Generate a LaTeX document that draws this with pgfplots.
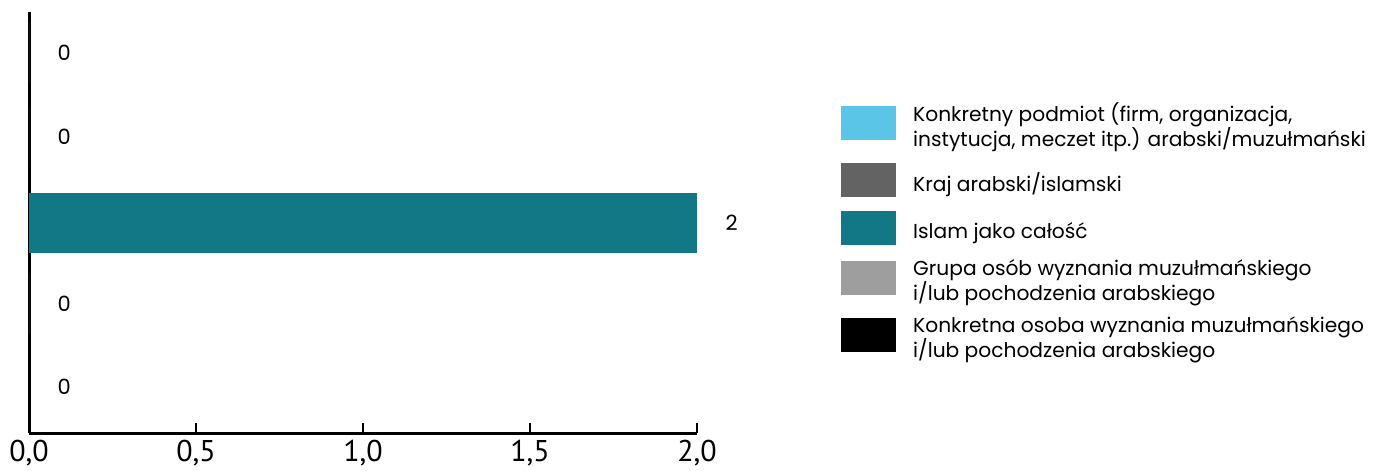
\documentclass[border=0pt]{standalone}
\usepackage{fontspec}
\setmainfont{Poppins}
\newfontfamily\ptsans{PT Sans}
\usepackage{pgfplots}
\pgfplotsset{compat=1.18}
\definecolor{cA}{HTML}{5BC5E8}
\definecolor{cB}{HTML}{636363}
\definecolor{cC}{HTML}{137885}
\definecolor{cD}{HTML}{9E9E9E}
\definecolor{cE}{HTML}{000000}
\begin{document}
\begin{tikzpicture}[x=1pt,y=1pt]
\path[use as bounding box] (0,0) rectangle (1392,471);
\begin{axis}[
  at={(29pt,38pt)}, anchor=south west,
  scale only axis, width=668pt, height=421pt,
  xmin=0, xmax=2, ymin=-0.55, ymax=4.49,
  xbar, bar width=0.72, bar shift=0pt,
  axis x line=bottom, axis y line=left,
  axis line style={line width=3pt, -},
  ytick=\empty,
  xtick={0,0.5,1,1.5,2},
  xtick pos=bottom, tick align=inside,
  major tick length=10pt,
  tick style={line width=2pt, black},
  /pgf/number format/assume math mode=true,
  xticklabel style={font=\ptsans\fontsize{30}{32}\selectfont, yshift=-4pt,
    /pgf/number format/.cd, use comma, fixed, fixed zerofill, precision=1},
  nodes near coords, point meta=x,
  nodes near coords style={anchor=west, xshift=25pt, text=black,
    font=\fontsize{21}{24}\selectfont},
  every axis plot/.append style={draw=none},
  legend cell align=left,
  legend image code/.code={
    \fill[#1,draw=none] (0pt,-17pt) rectangle (55pt,17pt);
  },
  legend style={draw=none, fill=none, inner sep=0pt,
    at={(axis description cs:1.2156,0.784)}, anchor=north west,
    row sep=14.5pt,
    /tikz/every odd column/.append style={column sep=17pt},
    font=\fontsize{20.2}{25}\selectfont,
    nodes={align=left, inner sep=0pt, yshift=-3pt}},
]
\addplot[fill=cA] coordinates {(0,4)};
\addlegendentry{Konkretny podmiot (firm, organizacja,\\instytucja, meczet itp.) arabski/muzułmański}
\addplot[fill=cB] coordinates {(0,3)};
\addlegendentry{Kraj arabski/islamski}
\addplot[fill=cC, bar shift=-3pt] coordinates {(2,2)};
\addlegendentry{Islam jako całość}
\addplot[fill=cD] coordinates {(0,1)};
\addlegendentry{Grupa osób wyznania muzułmańskiego\\i/lub pochodzenia arabskiego}
\addplot[fill=cE] coordinates {(0,0)};
\addlegendentry{Konkretna osoba wyznania muzułmańskiego\\i/lub pochodzenia arabskiego}
\end{axis}
\end{tikzpicture}
\end{document}
